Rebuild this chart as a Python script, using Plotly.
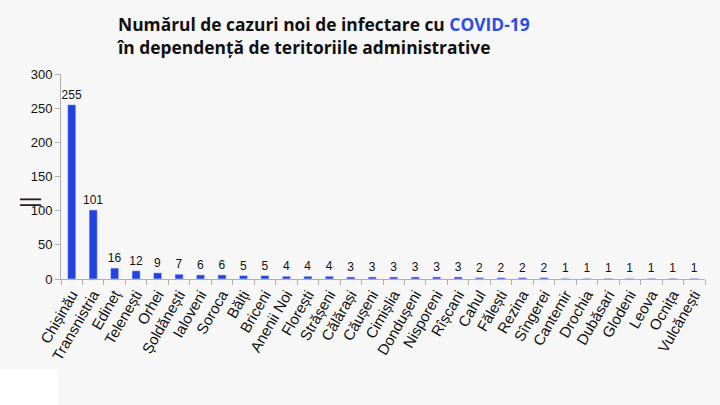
import plotly.graph_objects as go

categories = ["Chișinău", "Transnistria", "Edineț", "Telenești", "Orhei", "Șoldănești",
              "Ialoveni", "Soroca", "Bălți", "Briceni", "Anenii Noi", "Florești",
              "Strășeni", "Călărași", "Căușeni", "Cimișlia", "Dondușeni", "Nisporeni",
              "Rîșcani", "Cahul", "Fălești", "Rezina", "Sîngerei", "Cantemir",
              "Drochia", "Dubăsari", "Glodeni", "Leova", "Ocnița", "Vulcănești"]
values = [255, 101, 16, 12, 9, 7, 6, 6, 5, 5, 4, 4, 4, 3, 3, 3, 3, 3, 3,
          2, 2, 2, 2, 1, 1, 1, 1, 1, 1, 1]
y_ticks = [0, 50, 100, 150, 200, 250, 300]
title_text = ("Numărul de cazuri noi de infectare cu <span style='color:#2a4de6'>COVID-19</span>"
              "<br>în dependență de teritoriile administrative")

bg = "#f7f7f7"
fig = go.Figure(go.Bar(
    x=categories, y=values, marker_color="#2343e0",
    text=[str(v) for v in values], textposition="outside", constraintext="none",
    textfont=dict(family="Liberation Sans, Arial", size=12, color="#111"),
    cliponaxis=False,
))
fig.update_layout(
    width=720, height=405, paper_bgcolor=bg, plot_bgcolor=bg,
    margin=dict(l=61, r=15, t=74, b=126, autoexpand=False),
    bargap=0.62, showlegend=False,
)
fig.add_annotation(
    text=title_text, xref="paper", yref="paper", x=(114 - 61) / 644, y=1 + 64 / 205,
    xanchor="left", yanchor="top", align="left", showarrow=False,
    font=dict(family="Open Sans", size=17.4, color="#111", weight="bold"),
)
fig.add_annotation(
    text="||", xref="paper", yref="paper", x=-33 / 644, y=(279 - 203) / 205,
    xanchor="center", yanchor="middle", showarrow=False, textangle=-90,
    font=dict(family="Liberation Sans, Arial", size=22, color="#222"),
)
fig.update_xaxes(
    tickangle=-60, tickfont=dict(family="Liberation Sans, Arial", size=15, color="#111"),
    showline=True, linecolor="#b0b0b0", ticks="outside", tickson="boundaries",
    ticklen=5, tickcolor="#b0b0b0", showgrid=False, automargin=False,
)
fig.update_yaxes(
    range=[0, 300], tickvals=y_ticks, showgrid=False, zeroline=False,
    showline=True, linecolor="#b0b0b0", ticks="outside", ticklen=5, tickcolor="#b0b0b0",
    tickfont=dict(family="Liberation Sans, Arial", size=13, color="#111"), automargin=False,
)
fig.add_shape(type="rect", xref="paper", yref="paper", x0=-61/644, x1=-3/644,
              y0=-126/205, y1=-91/205, fillcolor="white", line_width=0, layer="above")
fig.write_html("out.html", config={"displayModeBar": False},
               post_script="document.body.style.margin='0';")
